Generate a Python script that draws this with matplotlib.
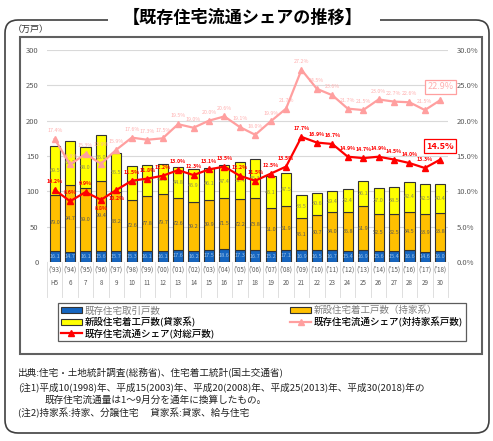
import numpy as np
import matplotlib.pyplot as plt
from matplotlib.patches import FancyBboxPatch, Rectangle, Patch
from matplotlib.lines import Line2D

plt.rcParams['font.family'] = ['Noto Sans CJK JP', 'DejaVu Sans']

years = ["('93)", "('94)", "('95)", "('96)", "('97)", "('98)", "('99)", "('00)", "('01)",
         "('02)", "('03)", "('04)", "('05)", "('06)", "('07)", "('08)", "('09)", "('10)",
         "('11)", "('12)", "('13)", "('14)", "('15)", "('16)", "('17)", "('18)"]
heisei = ["H5", "6", "7", "8", "9", "10", "11", "12", "13", "14", "15", "16", "17",
          "18", "19", "20", "21", "22", "23", "24", "25", "26", "27", "28", "29", "30"]

# 万戸
existing = [16.1, 14.7, 16.1, 15.6, 15.7, 15.3, 16.1, 16.1, 17.6, 16.2, 17.5, 18.6, 17.3,
            16.7, 15.2, 17.1, 16.9, 16.5, 16.7, 15.4, 16.9, 15.6, 15.4, 16.6, 14.6, 16.0]
owner_new = [79.0, 94.7, 89.0, 99.4, 83.2, 72.6, 77.8, 79.7, 72.6, 69.2, 69.9, 71.5, 72.2,
             73.8, 61.0, 61.9, 45.1, 50.7, 54.0, 55.8, 61.9, 52.5, 52.5, 54.5, 53.9, 53.8]
rental_new = [69.5, 62.1, 58.0, 65.0, 55.5, 47.4, 43.2, 43.3, 44.8, 45.9, 46.1, 47.4, 51.4,
              55.3, 45.1, 47.5, 33.5, 30.6, 29.4, 32.4, 36.1, 37.0, 38.5, 42.4, 42.5, 40.4]
# %
share_total = [10.2, 8.6, 9.9, 8.8, 10.2, 11.5, 11.8, 12.2, 13.0, 12.3, 13.1, 13.5, 12.2,
               11.5, 12.5, 13.5, 17.7, 16.9, 16.7, 14.9, 14.7, 14.9, 14.5, 14.0, 13.3, 14.5]
share_owner = [17.4, 13.8, 15.3, 13.9, 15.9, 17.6, 17.3, 17.5, 19.5, 19.0, 20.0, 20.6, 19.1,
               18.0, 19.9, 21.7, 27.2, 24.5, 23.6, 21.7, 21.5, 23.0, 22.7, 22.6, 21.5, 22.9]

c_blue = '#1565c0'
c_orange = '#ffc000'
c_yellow = '#ffff00'
c_red = '#ff0000'
c_pink = '#ff9f9f'

W, H = 493, 441
fig = plt.figure(figsize=(W / 100, H / 100), dpi=100)

# outer rounded frame and inner frame
frame = FancyBboxPatch((0.05, (H - 433) / 100), 4.84, 4.13,
                       boxstyle="round,pad=0,rounding_size=0.13",
                       transform=fig.dpi_scale_trans, fill=False,
                       edgecolor='#404040', lw=1.2)
fig.patches.append(frame)
fig.patches.append(Rectangle((108 / W, 1 - 27 / H), 272 / W, 14 / H, transform=fig.transFigure,
                             facecolor='white', edgecolor='none', zorder=2))
fig.patches.append(Rectangle((20 / W, 1 - 354 / H), 462 / W, 317 / H, transform=fig.transFigure,
                             fill=False, edgecolor='#606060', lw=1.5))

fig.text(243 / W, 1 - 18 / H, "【既存住宅流通シェアの推移】", ha='center', va='center',
         fontsize=12.3, fontweight='bold', zorder=3)
fig.text(13 / W, 1 - 29 / H, "（万戸）", ha='left', va='center', fontsize=6.5, color='#333333')

ax = fig.add_axes([47 / W, 1 - 262 / H, 401 / W, 212 / H])
x = np.arange(len(years))
ex = np.array(existing)
ow = np.array(owner_new)
re = np.array(rental_new)

bw = 0.66
ax.bar(x, ex, bw, color=c_blue, edgecolor='#333333', lw=0.8, zorder=3)
ax.bar(x, ow, bw, bottom=ex, color=c_orange, edgecolor='#333333', lw=0.8, zorder=3)
ax.bar(x, re, bw, bottom=ex + ow, color=c_yellow, edgecolor='#333333', lw=0.8, zorder=3)

for i in range(len(x)):
    ax.text(x[i], ex[i] / 2, f"{ex[i]:.1f}", ha='center', va='center', fontsize=4,
            color='#9dc3e6', zorder=4)
    ax.text(x[i], ex[i] + ow[i] / 2, f"{ow[i]:.1f}", ha='center', va='center', fontsize=4,
            color='#595959', zorder=4)
    ax.text(x[i], ex[i] + ow[i] + re[i] / 2, f"{re[i]:.1f}", ha='center', va='center',
            fontsize=4, color='#8c8c5a', zorder=4)

ax.set_xlim(-0.5, len(x) - 0.5)
ax.set_ylim(0, 300)
ax.set_yticks(range(0, 301, 50))
ax.grid(axis='y', color='#d9d9d9', lw=0.8, zorder=0)
ax.set_axisbelow(True)
ax.tick_params(axis='y', length=0, labelsize=5.5, labelcolor='#595959', pad=6)
ax.set_xticks([])
for s in ax.spines.values():
    s.set_visible(False)

# category table under the axis
tr = ax.get_xaxis_transform()
for i in range(len(x)):
    ax.text(x[i], -0.035, years[i], transform=tr, ha='center', va='center', fontsize=4.5,
            color='#595959')
    ax.text(x[i], -0.1, heisei[i], transform=tr, ha='center', va='center', fontsize=4.5,
            color='#595959')
for i in range(len(x) + 1):
    ax.plot([i - 0.5, i - 0.5], [0, -0.165], transform=tr, color='#d9d9d9', lw=0.6,
            clip_on=False)

ax2 = ax.twinx()
ax2.set_ylim(0, 30)
ax2.set_yticks(range(0, 31, 5))
ax2.set_yticklabels([f"{v:.1f}%" for v in range(0, 31, 5)])
ax2.tick_params(axis='y', length=0, labelsize=5.5, labelcolor='#595959', pad=6)
for s in ax2.spines.values():
    s.set_visible(False)

ax2.plot(x, share_owner, color=c_pink, lw=1.6, marker='^', ms=4.5, zorder=5)
ax2.plot(x, share_total, color=c_red, lw=1.6, marker='^', ms=4.5, zorder=6)

below = [3, 4]
for i in range(len(x) - 1):
    dp = 14 if i == 3 else 6
    ax2.annotate(f"{share_owner[i]:.1f}%", (x[i], share_owner[i]), xytext=(0, dp),
                 textcoords='offset points', ha='center', va='center', fontsize=3.8,
                 color='#ffb0b0')
    dy = -6 if i in below else 6
    ax2.annotate(f"{share_total[i]:.1f}%", (x[i], share_total[i]), xytext=(0, dy),
                 textcoords='offset points', ha='center', va='center', fontsize=3.8,
                 color=c_red, fontweight='bold')

ax2.text(x[-1], 24.8, f"{share_owner[-1]:.1f}%", ha='center', va='center', fontsize=6.5,
         color='#ffb0b0', bbox=dict(boxstyle='square,pad=0.25', facecolor='white',
                                    edgecolor=c_pink, lw=0.9))
ax2.text(x[-1], 16.4, f"{share_total[-1]:.1f}%", ha='center', va='center', fontsize=6.5,
         color=c_red, fontweight='bold',
         bbox=dict(boxstyle='square,pad=0.25', facecolor='white', edgecolor=c_red, lw=0.9))

handles = [
    Patch(facecolor=c_blue, edgecolor='#333333', lw=0.8),
    Patch(facecolor=c_yellow, edgecolor='#333333', lw=0.8),
    Line2D([], [], color=c_red, lw=1.6, marker='^', ms=4),
    Patch(facecolor=c_orange, edgecolor='#333333', lw=0.8),
    Line2D([], [], color=c_pink, lw=1.6, marker='^', ms=4),
]
labels = ["既存住宅取引戸数", "新設住宅着工戸数(貸家系)", "既存住宅流通シェア(対総戸数)",
          "新設住宅着工戸数（持家系）", "既存住宅流通シェア(対持家系戸数)"]
leg = fig.legend(handles, labels, loc='upper left', ncol=2, mode='expand',
                 bbox_to_anchor=(58 / W, 1 - 341 / H, 408 / W, 38 / H),
                 fontsize=6.8, frameon=True, fancybox=False, edgecolor='#333333',
                 borderpad=0.3, labelspacing=0.15, handlelength=2.2, handleheight=0.6,
                 handletextpad=0.3, borderaxespad=0)
leg.get_frame().set_linewidth(0.9)
for k, t in enumerate(leg.get_texts()):
    if k in (0, 3):
        t.set_color('#7f7f7f')
    else:
        t.set_fontweight('medium')

notes = [
    (18, 373, "出典:住宅・土地統計調査(総務省)、住宅着工統計(国土交通省)"),
    (18, 387, "(注1)平成10(1998)年、平成15(2003)年、平成20(2008)年、平成25(2013)年、平成30(2018)年の"),
    (45, 400, "既存住宅流通量は1～9月分を通年に換算したもの。"),
    (18, 413, "(注2)持家系:持家、分譲住宅　 貸家系:貸家、給与住宅"),
]
for nx, ny, t in notes:
    fig.text(nx / W, 1 - ny / H, t, ha='left', va='center', fontsize=6.9, color='#222222')

fig.savefig("out.png", dpi=100)
